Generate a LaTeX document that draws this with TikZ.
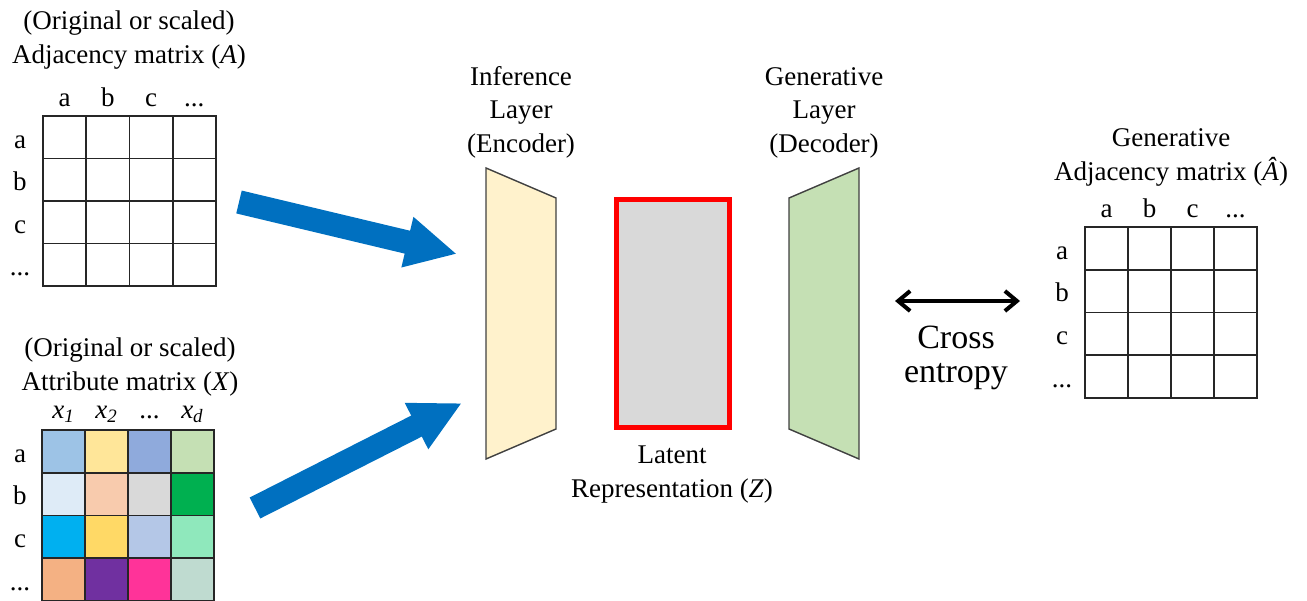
\documentclass[tikz,border=0pt]{standalone}
\usepackage{fontspec}
\setmainfont{Liberation Serif}
\usetikzlibrary{arrows.meta,positioning}

\definecolor{arrowblue}{HTML}{0070C0}
\definecolor{encfill}{HTML}{FFF2CC}
\definecolor{decfill}{HTML}{C5E0B4}
\definecolor{latentfill}{HTML}{D9D9D9}
% attribute matrix colours
\definecolor{xa1}{HTML}{9DC3E6}\definecolor{xa2}{HTML}{FFE699}
\definecolor{xa3}{HTML}{8FAADC}\definecolor{xa4}{HTML}{C5E0B4}
\definecolor{xb1}{HTML}{DEEBF7}\definecolor{xb2}{HTML}{F8CBAD}
\definecolor{xb3}{HTML}{D9D9D9}\definecolor{xb4}{HTML}{00B050}
\definecolor{xc1}{HTML}{00B0F0}\definecolor{xc2}{HTML}{FFD966}
\definecolor{xc3}{HTML}{B4C7E7}\definecolor{xc4}{HTML}{8FE8BC}
\definecolor{xd1}{HTML}{F4B183}\definecolor{xd2}{HTML}{7030A0}
\definecolor{xd3}{HTML}{FF3399}\definecolor{xd4}{HTML}{BFDBD0}

\newcommand{\rowdots}{...}
\newcommand{\xs}[1]{\textit{x}\textsubscript{\textit{#1}}}

\begin{document}
\begin{tikzpicture}[x=0.5pt, y=-0.5pt,
  font=\fontsize{13.5}{16.75}\selectfont,
  cell/.style={draw=black!85, line width=0.9pt},
  lbl/.style={anchor=base, inner sep=0pt},
  title/.style={anchor=base, align=center, inner sep=0pt},
  layer/.style={draw=black!75, line width=0.7pt},
  latent/.style={draw=red, line width=2.5pt, fill=latentfill,
    minimum width=56.5pt, minimum height=114pt, inner sep=0pt},
  bigarrow/.style={arrowblue, line width=11.75pt,
    -{Triangle[length=25.5pt, width=24pt]}}
]
  \useasboundingbox (0,0) rectangle (1307,600);
  \clip (0,0) rectangle (1307,600);

  % input adjacency matrix
  \node[title] (titA) at (129,63) {(Original or scaled)\\Adjacency matrix (\textit{A})};
  \foreach \t [count=\i from 0] in {a,b,c,\rowdots} {
    \node[lbl] (colA\i) at (64.6+43.25*\i,106) {\t};
    \node[lbl] (rowA\i) at (20,148+42.5*\i) {\t};
  }
  \foreach \i in {0,...,3}
    \foreach \j in {0,...,3}
      \draw[cell] (43+43.25*\i,116+42.5*\j) rectangle ++(43.25,42.5);

  % input attribute matrix
  \node[title] (titX) at (130,390) {(Original or scaled)\\Attribute matrix (\textit{X})};
  \foreach \t [count=\i from 0] in {\xs{1},\xs{2},\rowdots,\xs{d}}
    \node[lbl] (colX\i) at (63.5+43*\i,418) {\t};
  \foreach \t [count=\i from 0] in {a,b,c,\rowdots}
    \node[lbl] (rowX\i) at (20,462+42.7*\i) {\t};
  \foreach \row [count=\j from 0] in {{xa1,xa2,xa3,xa4},{xb1,xb2,xb3,xb4},
      {xc1,xc2,xc3,xc4},{xd1,xd2,xd3,xd4}}
    \foreach \c [count=\i from 0] in \row
      \draw[cell, fill=\c] (42+43*\i,430+42.7*\j) rectangle ++(43,42.7);

  % encoder, latent, decoder
  \draw[layer, fill=encfill] (486,168) -- (556,198) -- (556,429) -- (486,459) -- cycle;
  \node[title] (enclbl) at (521,152) {Inference\\Layer\\(Encoder)};
  \node[latent] (z) at (673,313.5) {};
  \node[title] (zlbl) at (672,497) {Latent\\Representation (\textit{Z})};
  \draw[layer, fill=decfill] (789,198) -- (859,168) -- (859,459) -- (789,429) -- cycle;
  \node[title] (declbl) at (824,152) {Generative\\Layer\\(Decoder)};

  % big input arrows
  \coordinate (inA) at (239,202);
  \coordinate (encA) at (457,254);
  \draw[bigarrow] (inA) -- (encA);
  \coordinate (inX) at (255,508);
  \coordinate (encX) at (462,403);
  \draw[bigarrow] (inX) -- (encX);

  % cross entropy
  \coordinate (ceL) at (895,301);
  \coordinate (ceR) at (1020,301);
  \draw[line width=2pt, {Straight Barb[length=6pt,width=10pt]}-{Straight Barb[length=6pt,width=10pt]}]
    (ceL) -- (ceR);
  \node[title, font=\fontsize{17}{17}\selectfont] (ce) at (956,382) {Cross\\entropy};

  % generative adjacency matrix
  \node[title] (titAh) at (1171,180) {Generative\\Adjacency matrix (\textit{Â})};
  \foreach \t [count=\i from 0] in {a,b,c,\rowdots} {
    \node[lbl] (colH\i) at (1106.5+43*\i,217) {\t};
    \node[lbl] (rowH\i) at (1062,259+42.75*\i) {\t};
  }
  \foreach \i in {0,...,3}
    \foreach \j in {0,...,3}
      \draw[cell] (1085+43*\i,227+42.75*\j) rectangle ++(43,42.75);
\end{tikzpicture}
\end{document}
